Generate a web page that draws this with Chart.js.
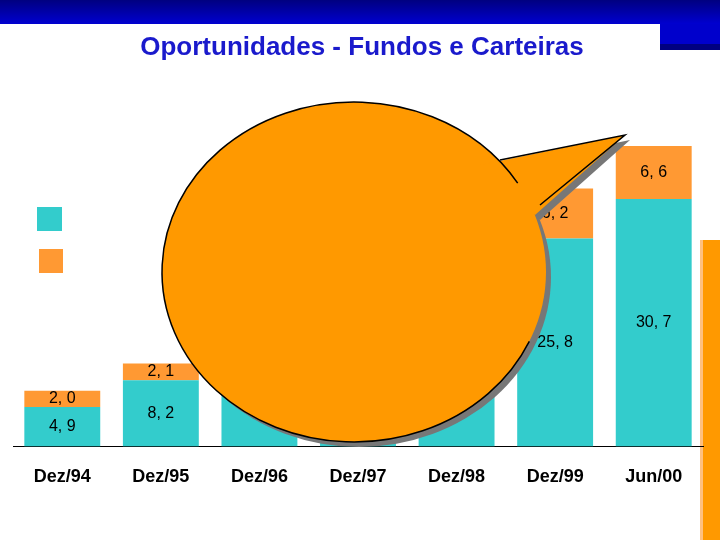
<!DOCTYPE html><html><head><meta charset="utf-8">
<script src="https://cdn.jsdelivr.net/npm/chart.js@4"></script>
<style>html,body{margin:0;padding:0;background:#fff}#w{position:relative;width:720px;height:540px}</style></head><body>
<div id="w"><canvas id="c" width="720" height="540"></canvas></div>
<script>
const categories=["Dez/94","Dez/95","Dez/96","Dez/97","Dez/98","Dez/99","Jun/00"];
const fundos=[4.9,8.2,12.0,15.5,20.0,25.8,30.7];
const carteiras=[2.0,2.1,2.6,3.2,4.3,6.2,6.6];
const title="Oportunidades - Fundos e Carteiras";
const deco={id:'deco',
beforeDraw(ch){const c=ch.ctx;c.save();
 const g=c.createLinearGradient(0,0,0,24);g.addColorStop(0,'#000080');g.addColorStop(1,'#0000d0');
 c.fillStyle=g;c.fillRect(0,0,720,24);
 c.fillStyle='#0000cc';c.fillRect(660,24,60,26);
 c.fillStyle='#000080';c.fillRect(660,44,60,6);
 c.fillStyle='#ff9900';c.fillRect(703,240,17,300);
 c.fillStyle='#ffc080';c.fillRect(700,240,3,300);
 c.fillStyle='#1a1acc';c.font='bold 26px "Liberation Sans",Arial';c.textAlign='center';c.textBaseline='middle';
 c.fillText(title,362,48);
 c.fillStyle='#33cccc';c.fillRect(37,207,25,24);
 c.fillStyle='#ff9933';c.fillRect(39,249,24,24);
 c.restore();},
afterDatasetsDraw(ch){const c=ch.ctx;c.save();c.font='16px "Liberation Sans",Arial';c.fillStyle='#000';c.textAlign='center';c.textBaseline='middle';
 ch.data.datasets.forEach((d,i)=>{ch.getDatasetMeta(i).data.forEach((b,j)=>{const y=(b.y+b.base)/2;c.fillText(d.data[j].toFixed(1).replace('.',', '),b.x,y);});});
 // bubble
 const bub=(dx,dy,col,stroke)=>{c.beginPath();c.ellipse(354+dx,272+dy,192,170,0,0,Math.PI*2);c.fillStyle=col;c.fill();
  c.beginPath();c.moveTo(480+dx,165+dy);c.lineTo(625+dx,135+dy);c.lineTo(535+dx,215+dy);c.closePath();c.fill();
  if(stroke){c.strokeStyle='#000';c.lineWidth=1.5;c.beginPath();c.ellipse(354,272,192,170,0,0.42,Math.PI*2-0.55);c.stroke();
   c.beginPath();c.moveTo(500,160);c.lineTo(625,135);c.lineTo(540,205);c.stroke();}};
 bub(5,5,'#777',false);bub(0,0,'#ff9900',true);
 c.restore();}};
new Chart(document.getElementById('c'),{type:'bar',
data:{labels:categories,datasets:[
 {label:'Fundos',data:fundos,backgroundColor:'#33cccc',barPercentage:0.77,categoryPercentage:1},
 {label:'Carteiras',data:carteiras,backgroundColor:'#ff9933',barPercentage:0.77,categoryPercentage:1}]},
options:{responsive:false,animation:false,layout:{padding:{left:13,right:17,top:100,bottom:40}},
 plugins:{legend:{display:false},tooltip:{enabled:false}},
 scales:{x:{stacked:true,grid:{display:false,drawTicks:true},border:{color:'#000'},ticks:{color:'#000',font:{family:'"Liberation Sans",Arial',size:18,weight:'bold'},padding:12}},
  y:{stacked:true,display:false,min:0,max:43}}},
plugins:[deco]});
</script></body></html>
